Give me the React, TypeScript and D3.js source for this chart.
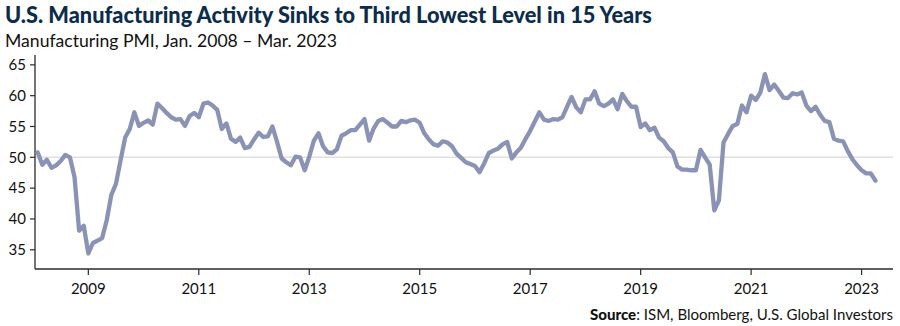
import React from 'react';
import * as d3 from 'd3';

const pmi2008 = [50.8, 48.8, 49.6, 48.3, 48.7, 49.4, 50.4, 50.0, 46.8, 38.1, 38.9, 34.4];
const pmi2009 = [36.1, 36.5, 36.9, 39.8, 43.9, 45.7, 49.5, 53.2, 54.6, 57.3, 55.1, 55.6];
const pmi2010 = [56.0, 55.3, 58.7, 58.0, 57.2, 56.5, 56.1, 56.2, 55.1, 56.7, 57.2, 56.5];
const pmi2011 = [58.7, 58.9, 58.4, 57.7, 54.6, 55.5, 53.0, 52.5, 53.2, 51.5, 51.7, 52.9];
const pmi2012 = [54.0, 53.3, 53.4, 55.0, 52.5, 49.8, 49.2, 48.7, 50.1, 50.0, 47.9, 50.1];
const pmi2013 = [52.7, 53.9, 51.8, 50.8, 50.7, 51.3, 53.5, 53.9, 54.4, 54.4, 55.3, 56.2];
const pmi2014 = [52.7, 54.7, 55.9, 56.2, 55.6, 55.0, 55.0, 55.9, 55.7, 56.0, 56.1, 55.6];
const pmi2015 = [53.9, 52.9, 52.1, 51.9, 52.6, 52.4, 51.8, 50.6, 49.9, 49.2, 48.9, 48.6];
const pmi2016 = [47.6, 49.0, 50.7, 51.1, 51.4, 52.1, 52.5, 49.8, 50.8, 51.6, 53.0, 54.3];
const pmi2017 = [55.8, 57.3, 56.1, 55.9, 56.2, 56.1, 56.5, 58.2, 59.8, 58.1, 57.3, 59.4];
const pmi2018 = [59.4, 60.7, 58.7, 58.3, 58.7, 59.4, 57.8, 60.3, 59.1, 58.2, 58.2, 54.9];
const pmi2019 = [55.5, 54.4, 54.8, 53.2, 52.6, 51.5, 50.8, 48.5, 48.0, 48.0, 47.9, 47.9];
const pmi2020 = [51.2, 50.0, 48.8, 41.4, 43.0, 52.4, 53.8, 55.1, 55.4, 58.4, 57.3, 60.0];
const pmi2021 = [59.3, 60.5, 63.5, 60.9, 61.8, 60.8, 59.7, 59.6, 60.4, 60.2, 60.5, 58.4];
const pmi2022 = [57.5, 58.2, 56.9, 55.9, 55.7, 53.0, 52.7, 52.6, 51.0, 49.7, 48.7, 47.9];
const pmi2023 = [47.4, 47.4, 46.2];

const pmi: number[] = [
  ...pmi2008, ...pmi2009, ...pmi2010, ...pmi2011, ...pmi2012, ...pmi2013,
  ...pmi2014, ...pmi2015, ...pmi2016, ...pmi2017, ...pmi2018, ...pmi2019,
  ...pmi2020, ...pmi2021, ...pmi2022, ...pmi2023,
];

const yTicks = [35, 40, 45, 50, 55, 60, 65];
const xTickLabels = ['2009', '2011', '2013', '2015', '2017', '2019', '2021', '2023'];
const xTickIndex = [11, 35, 59, 83, 107, 131, 155, 179];

const title = 'U.S. Manufacturing Activity Sinks to Third Lowest Level in 15 Years';
const subtitle = 'Manufacturing PMI, Jan. 2008 \u2013 Mar. 2023';

export default function App() {
  const W = 900;
  const H = 326;
  const x = d3.scaleLinear().domain([0, pmi.length - 1]).range([37.7, 875.4]);
  const y = d3.scaleLinear().domain([31.88, 66.6]).range([269, 55]);
  const line = d3
    .line<number>()
    .x((_, i) => x(i))
    .y((d) => y(d));
  const font = 'Lato, "Open Sans", sans-serif';
  const axisColor = '#2b2b2b';

  return (
    <svg
      width={W}
      height={H}
      viewBox={`0 0 ${W} ${H}`}
      style={{ position: 'absolute', left: 0, top: 0, background: '#fff' }}
      fontFamily={font}
    >
      <text x={5} y={23} fontSize={22} fontWeight={900} fill="#0c2c4c" textLength={647} lengthAdjust="spacingAndGlyphs">
        {title}
      </text>
      <text x={5} y={46.5} fontSize={18} fill="#111" textLength={332} lengthAdjust="spacingAndGlyphs">
        {subtitle}
      </text>

      {/* 50 reference line */}
      <line x1={36} x2={893} y1={y(50)} y2={y(50)} stroke="#e0e0e0" strokeWidth={1.6} />

      {/* Y axis */}
      <line x1={35} x2={35} y1={55} y2={269} stroke={axisColor} strokeWidth={1.3} />
      {yTicks.map((t) => (
        <g key={t}>
          <line x1={30} x2={35} y1={y(t)} y2={y(t)} stroke={axisColor} strokeWidth={1.2} />
          <text x={26} y={y(t)} dy="0.35em" textAnchor="end" fontSize={15} fill="#111">
            {t}
          </text>
        </g>
      ))}

      {/* X axis */}
      <line x1={35} x2={893} y1={269} y2={269} stroke={axisColor} strokeWidth={1.3} />
      {xTickIndex.map((idx, k) => (
        <g key={idx}>
          <line x1={x(idx)} x2={x(idx)} y1={269} y2={275} stroke={axisColor} strokeWidth={1.2} />
          <text x={x(idx)} y={294} textAnchor="middle" fontSize={15} fill="#111">
            {xTickLabels[k]}
          </text>
        </g>
      ))}

      {/* PMI line */}
      <path
        d={line(pmi) || ''}
        fill="none"
        stroke="#8a93b5"
        strokeWidth={4.3}
        strokeLinejoin="round"
        strokeLinecap="round"
      />

      <text x={893} y={320} textAnchor="end" fontSize={15} fill="#111" textLength={303} lengthAdjust="spacingAndGlyphs">
        <tspan fontWeight={900}>Source</tspan>
        <tspan>: ISM, Bloomberg, U.S. Global Investors</tspan>
      </text>
    </svg>
  );
}
